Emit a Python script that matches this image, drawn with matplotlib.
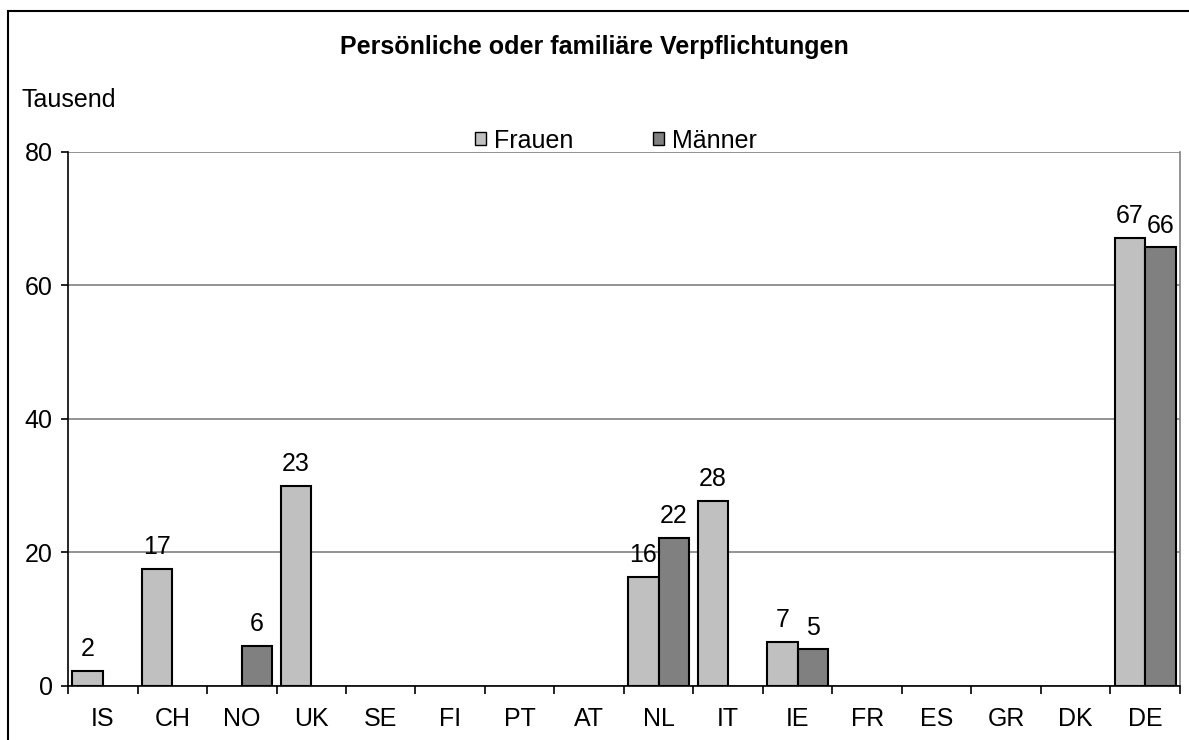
import numpy as np
import matplotlib
matplotlib.use('Agg')
import matplotlib.pyplot as plt
from matplotlib.patches import Rectangle

plt.rcParams['font.family'] = ['Liberation Sans', 'DejaVu Sans']

# data (Tausend)
countries = ['IS', 'CH', 'NO', 'UK', 'SE', 'FI', 'PT', 'AT',
             'NL', 'IT', 'IE', 'FR', 'ES', 'GR', 'DK', 'DE']
frauen = [2.3, 17.5, None, 30.0, None, None, None, None,
          16.3, 27.7, 6.6, None, None, None, None, 67.1]
maenner = [None, None, 6.0, None, None, None, None, None,
           22.2, None, 5.5, None, None, None, None, 65.7]
# labels as printed in the original (UK label differs from its bar)
frauen_lbl = ['2', '17', '', '23', '', '', '', '',
              '16', '28', '7', '', '', '', '', '67']
maenner_lbl = ['', '', '6', '', '', '', '', '',
               '22', '', '5', '', '', '', '', '66']

fig = plt.figure(figsize=(11.89, 7.40), dpi=100)
ax = fig.add_axes([0.0572, 0.073, 0.9352, 0.7216])

x = np.arange(len(countries))
w = 0.44
fsz = 18

def draw(vals, lbls, offset, color):
    for xi, v, l in zip(x, vals, lbls):
        if v is None:
            continue
        ax.bar(xi + offset, v, width=w, align='edge', color=color,
               edgecolor='black', linewidth=1.5, zorder=3)
        ax.annotate(l, (xi + offset + w / 2, v), xytext=(0, 7),
                    textcoords='offset points', ha='center', va='bottom',
                    fontsize=fsz)

draw(frauen, frauen_lbl, 0.5 - w, '#c0c0c0')
draw(maenner, maenner_lbl, 0.5, '#808080')

ax.set_xlim(0, len(countries))
ax.set_ylim(0, 80)
ax.set_yticks([0, 20, 40, 60, 80])
ax.yaxis.grid(True, color='#808080', linewidth=1.2, zorder=0)
ax.set_axisbelow(True)

ax.set_xticks(x + 0.5)
ax.set_xticklabels(countries)
ax.set_xticks(np.arange(len(countries) + 1), minor=True)
ax.tick_params(axis='x', which='major', length=0, pad=15, labelsize=fsz)
ax.tick_params(axis='x', which='minor', length=6, width=1.2, direction='out')
ax.tick_params(axis='y', length=5, width=1.2, pad=6, labelsize=fsz)

for s in ['left', 'bottom']:
    ax.spines[s].set_color('black')
    ax.spines[s].set_linewidth(1.2)
ax.spines['right'].set_color('#808080')
ax.spines['top'].set_visible(False)
ax.spines['right'].set_linewidth(1.2)

fig.text(0.5, 0.936, 'Persönliche oder familiäre Verpflichtungen',
         ha='center', va='center', fontsize=18, fontweight='bold')
fig.text(0.0185, 0.865, 'Tausend', ha='left', va='center', fontsize=fsz)

handles = [Rectangle((0, 0), 1, 1, facecolor='#c0c0c0', edgecolor='black', linewidth=1),
           Rectangle((0, 0), 1, 1, facecolor='#808080', edgecolor='black', linewidth=1)]
fig.legend(handles, ['Frauen', 'Männer'], loc='center', bbox_to_anchor=(0.518, 0.81),
           ncol=2, frameon=False, fontsize=fsz, handlelength=0.45, handleheight=0.45,
           handletextpad=0.3, columnspacing=3.2)

fig.patches.append(Rectangle((8 / 1189, -0.05), 1.2, 1.05 - 11 / 740,
                             transform=fig.transFigure, fill=False,
                             edgecolor='black', linewidth=1.5))

fig.savefig('out.png', dpi=100)
